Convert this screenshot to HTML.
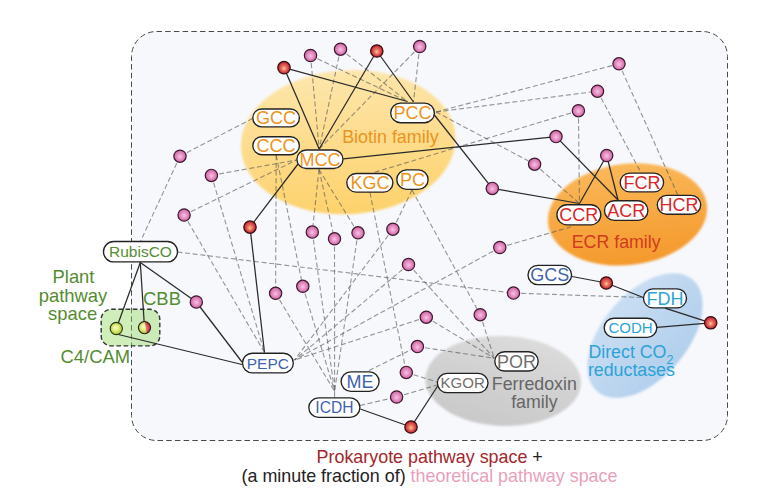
<!DOCTYPE html><html><head><meta charset="utf-8"><style>
html,body{margin:0;padding:0;background:#fff;}
body{width:757px;height:501px;overflow:hidden;position:relative;font-family:"Liberation Sans",sans-serif;}
svg{position:absolute;left:0;top:0;}
svg text{font-family:"Liberation Sans",sans-serif;}
</style></head><body>
<svg width="757" height="501" viewBox="0 0 757 501">
<defs>
<radialGradient id="gp" cx="50%" cy="50%" r="50%" fx="50%" fy="55%"><stop offset="0" stop-color="#f6c4e2"/><stop offset="0.5" stop-color="#e690c6"/><stop offset="1" stop-color="#c9679f"/></radialGradient>
<radialGradient id="gr" cx="50%" cy="50%" r="50%" fx="50%" fy="58%"><stop offset="0" stop-color="#f8cc94"/><stop offset="0.38" stop-color="#eb7462"/><stop offset="0.75" stop-color="#d13e40"/><stop offset="1" stop-color="#9e2030"/></radialGradient>
<radialGradient id="gy" cx="50%" cy="50%" r="50%" fx="40%" fy="40%"><stop offset="0" stop-color="#f8fbd0"/><stop offset="0.5" stop-color="#e2ef80"/><stop offset="1" stop-color="#a8c238"/></radialGradient>
<radialGradient id="gr2" cx="50%" cy="50%" r="50%" fx="40%" fy="60%"><stop offset="0" stop-color="#fbd0d0"/><stop offset="0.5" stop-color="#e66a72"/><stop offset="1" stop-color="#b82a3a"/></radialGradient>
<linearGradient id="gbio" x1="0" y1="0" x2="0" y2="1"><stop offset="0" stop-color="#fde6ac"/><stop offset="1" stop-color="#fdd26c"/></linearGradient>
<linearGradient id="gecr" x1="0" y1="0" x2="0" y2="1"><stop offset="0" stop-color="#fab85a"/><stop offset="1" stop-color="#f4992c"/></linearGradient>
<linearGradient id="gblue" x1="0" y1="0" x2="0" y2="1"><stop offset="0" stop-color="#c9def3"/><stop offset="1" stop-color="#b2cfec"/></linearGradient>
<linearGradient id="ggrey" x1="0.7" y1="0" x2="0.3" y2="1"><stop offset="0" stop-color="#dcdcdd"/><stop offset="0.5" stop-color="#d1d1d1"/><stop offset="1" stop-color="#c9c9c9"/></linearGradient>
<filter id="blur1" x="-10%" y="-10%" width="120%" height="120%"><feGaussianBlur stdDeviation="0.8"/></filter>
</defs>
<rect x="131.5" y="31.5" width="596" height="409" rx="25" ry="25" fill="#f7f8fc" stroke="#4a4a4a" stroke-width="1" stroke-dasharray="5.5 3.2"/>
<ellipse cx="348.2" cy="142.2" rx="107.4" ry="72" transform="rotate(-3.3 348.2 142.2)" fill="url(#gbio)" filter="url(#blur1)"/>
<ellipse cx="627.5" cy="214.4" rx="80" ry="50.6" transform="rotate(-7 627.5 214.4)" fill="url(#gecr)" filter="url(#blur1)"/>
<ellipse cx="645" cy="335.6" rx="73.5" ry="42.5" transform="rotate(-49.5 645 335.6)" fill="url(#gblue)" filter="url(#blur1)"/>
<ellipse cx="503.2" cy="380.9" rx="77.9" ry="45" transform="rotate(1.8 503.2 380.9)" fill="url(#ggrey)" filter="url(#blur1)"/>
<rect x="101.2" y="309.3" width="58.6" height="36.6" rx="10" ry="10" fill="rgb(140,215,90)" fill-opacity="0.42" stroke="#333" stroke-width="1.4" stroke-dasharray="4.6 2.6"/>
<g stroke="#555" stroke-opacity="0.62" stroke-width="1.1" stroke-dasharray="5 2.7" fill="none">
<line x1="310.5" y1="55.5" x2="319.2" y2="149.0"/>
<line x1="310.5" y1="55.5" x2="407.5" y2="101.5"/>
<line x1="340.5" y1="49.2" x2="319.2" y2="149.0"/>
<line x1="340.5" y1="49.2" x2="407.5" y2="101.5"/>
<line x1="419.7" y1="46.5" x2="319.2" y2="149.0"/>
<line x1="419.7" y1="46.5" x2="413.5" y2="102.0"/>
<line x1="436.0" y1="112.0" x2="619.0" y2="63.8"/>
<line x1="436.0" y1="112.0" x2="597.5" y2="91.2"/>
<line x1="436.0" y1="112.0" x2="534.6" y2="164.2"/>
<line x1="619.0" y1="63.8" x2="677.7" y2="194.8"/>
<line x1="597.5" y1="91.2" x2="640.8" y2="172.4"/>
<line x1="578.4" y1="110.7" x2="579.5" y2="203.5"/>
<line x1="578.4" y1="110.7" x2="373.0" y2="172.8"/>
<line x1="534.6" y1="164.2" x2="579.5" y2="203.5"/>
<line x1="180.0" y1="156.2" x2="252.5" y2="118.5"/>
<line x1="180.0" y1="156.2" x2="140.2" y2="242.0"/>
<line x1="211.4" y1="175.4" x2="296.5" y2="160.0"/>
<line x1="211.4" y1="175.4" x2="264.5" y2="352.5"/>
<line x1="184.1" y1="215.0" x2="296.5" y2="160.0"/>
<line x1="184.1" y1="215.0" x2="264.5" y2="352.5"/>
<line x1="276.2" y1="155.2" x2="275.6" y2="293.3"/>
<line x1="276.2" y1="155.2" x2="302.8" y2="286.3"/>
<line x1="319.0" y1="169.5" x2="312.3" y2="232.1"/>
<line x1="319.0" y1="169.5" x2="334.5" y2="238.8"/>
<line x1="319.0" y1="169.5" x2="358.0" y2="232.8"/>
<line x1="312.3" y1="232.1" x2="334.6" y2="391.3"/>
<line x1="334.5" y1="238.8" x2="334.6" y2="391.3"/>
<line x1="358.0" y1="232.8" x2="334.6" y2="391.3"/>
<line x1="302.8" y1="286.3" x2="334.6" y2="391.3"/>
<line x1="275.6" y1="293.3" x2="334.6" y2="391.3"/>
<line x1="412.0" y1="190.0" x2="392.9" y2="229.2"/>
<line x1="412.0" y1="190.0" x2="480.2" y2="314.7"/>
<line x1="370.0" y1="192.7" x2="406.3" y2="372.4"/>
<line x1="392.9" y1="229.2" x2="294.5" y2="360.0"/>
<line x1="408.5" y1="264.5" x2="294.5" y2="360.0"/>
<line x1="499.8" y1="247.5" x2="294.5" y2="360.0"/>
<line x1="426.3" y1="317.2" x2="294.5" y2="360.0"/>
<line x1="499.8" y1="247.5" x2="574.0" y2="226.0"/>
<line x1="177.4" y1="252.0" x2="513.5" y2="293.1"/>
<line x1="513.5" y1="293.1" x2="643.3" y2="297.5"/>
<line x1="408.5" y1="264.5" x2="494.3" y2="358.3"/>
<line x1="480.2" y1="314.7" x2="494.3" y2="358.3"/>
<line x1="426.3" y1="317.2" x2="494.3" y2="358.3"/>
<line x1="417.4" y1="346.6" x2="494.3" y2="358.3"/>
<line x1="369.0" y1="370.5" x2="417.4" y2="346.6"/>
<line x1="406.3" y1="372.4" x2="437.2" y2="382.0"/>
<line x1="396.6" y1="397.0" x2="437.2" y2="385.0"/>
<line x1="360.0" y1="405.5" x2="396.6" y2="397.0"/>
</g>
<line x1="334.6" y1="391.3" x2="334.6" y2="397.5" stroke="#888" stroke-width="1"/>
<g stroke="#2a2a2a" stroke-width="1.25" fill="none">
<line x1="284.0" y1="67.7" x2="319.2" y2="149.0"/>
<line x1="284.0" y1="67.7" x2="407.5" y2="101.5"/>
<line x1="376.8" y1="51.0" x2="319.2" y2="149.0"/>
<line x1="376.8" y1="51.0" x2="413.5" y2="102.0"/>
<line x1="343.3" y1="158.8" x2="556.0" y2="136.6"/>
<line x1="556.0" y1="136.6" x2="618.0" y2="200.0"/>
<line x1="434.0" y1="114.5" x2="492.3" y2="188.4"/>
<line x1="492.3" y1="188.4" x2="579.5" y2="203.5"/>
<line x1="606.7" y1="155.5" x2="579.5" y2="203.5"/>
<line x1="606.7" y1="155.5" x2="618.0" y2="200.0"/>
<line x1="298.0" y1="164.0" x2="250.0" y2="227.1"/>
<line x1="250.0" y1="227.1" x2="264.5" y2="352.5"/>
<line x1="140.3" y1="262.5" x2="116.3" y2="328.5"/>
<line x1="140.3" y1="262.5" x2="144.5" y2="327.6"/>
<line x1="140.3" y1="262.5" x2="196.3" y2="302.0"/>
<line x1="196.3" y1="302.0" x2="242.0" y2="362.0"/>
<line x1="116.3" y1="334.0" x2="242.0" y2="364.5"/>
<line x1="360.3" y1="409.0" x2="411.0" y2="427.0"/>
<line x1="411.0" y1="427.0" x2="438.0" y2="385.5"/>
<line x1="572.0" y1="276.5" x2="606.3" y2="283.0"/>
<line x1="606.3" y1="283.0" x2="643.3" y2="297.5"/>
<line x1="665.0" y1="308.2" x2="710.7" y2="322.8"/>
<line x1="657.0" y1="327.3" x2="710.7" y2="322.8"/>
</g>
<circle cx="284.0" cy="67.7" r="6.2" fill="url(#gr)" stroke="#3a1014" stroke-width="1.25"/>
<circle cx="310.5" cy="55.5" r="6.15" fill="url(#gp)" stroke="#3e1830" stroke-width="1.2"/>
<circle cx="340.5" cy="49.2" r="6.15" fill="url(#gp)" stroke="#3e1830" stroke-width="1.2"/>
<circle cx="376.8" cy="51.0" r="6.2" fill="url(#gr)" stroke="#3a1014" stroke-width="1.25"/>
<circle cx="419.7" cy="46.5" r="6.15" fill="url(#gp)" stroke="#3e1830" stroke-width="1.2"/>
<circle cx="619.0" cy="63.8" r="6.15" fill="url(#gp)" stroke="#3e1830" stroke-width="1.2"/>
<circle cx="597.5" cy="91.2" r="6.15" fill="url(#gp)" stroke="#3e1830" stroke-width="1.2"/>
<circle cx="578.4" cy="110.7" r="6.15" fill="url(#gp)" stroke="#3e1830" stroke-width="1.2"/>
<circle cx="556.0" cy="136.6" r="6.15" fill="url(#gp)" stroke="#3e1830" stroke-width="1.2"/>
<circle cx="534.6" cy="164.2" r="6.15" fill="url(#gp)" stroke="#3e1830" stroke-width="1.2"/>
<circle cx="606.7" cy="155.5" r="6.15" fill="url(#gp)" stroke="#3e1830" stroke-width="1.2"/>
<circle cx="492.3" cy="188.4" r="6.15" fill="url(#gp)" stroke="#3e1830" stroke-width="1.2"/>
<circle cx="180.0" cy="156.2" r="6.15" fill="url(#gp)" stroke="#3e1830" stroke-width="1.2"/>
<circle cx="211.4" cy="175.4" r="6.15" fill="url(#gp)" stroke="#3e1830" stroke-width="1.2"/>
<circle cx="184.1" cy="215.0" r="6.15" fill="url(#gp)" stroke="#3e1830" stroke-width="1.2"/>
<circle cx="250.0" cy="227.1" r="6.2" fill="url(#gr)" stroke="#3a1014" stroke-width="1.25"/>
<circle cx="312.3" cy="232.1" r="6.15" fill="url(#gp)" stroke="#3e1830" stroke-width="1.2"/>
<circle cx="334.5" cy="238.8" r="6.15" fill="url(#gp)" stroke="#3e1830" stroke-width="1.2"/>
<circle cx="358.0" cy="232.8" r="6.15" fill="url(#gp)" stroke="#3e1830" stroke-width="1.2"/>
<circle cx="392.9" cy="229.2" r="6.15" fill="url(#gp)" stroke="#3e1830" stroke-width="1.2"/>
<circle cx="408.5" cy="264.5" r="6.15" fill="url(#gp)" stroke="#3e1830" stroke-width="1.2"/>
<circle cx="499.8" cy="247.5" r="6.15" fill="url(#gp)" stroke="#3e1830" stroke-width="1.2"/>
<circle cx="513.5" cy="293.1" r="6.15" fill="url(#gp)" stroke="#3e1830" stroke-width="1.2"/>
<circle cx="480.2" cy="314.7" r="6.15" fill="url(#gp)" stroke="#3e1830" stroke-width="1.2"/>
<circle cx="426.3" cy="317.2" r="6.15" fill="url(#gp)" stroke="#3e1830" stroke-width="1.2"/>
<circle cx="302.8" cy="286.3" r="6.15" fill="url(#gp)" stroke="#3e1830" stroke-width="1.2"/>
<circle cx="275.6" cy="293.3" r="6.15" fill="url(#gp)" stroke="#3e1830" stroke-width="1.2"/>
<circle cx="196.3" cy="302.0" r="6.15" fill="url(#gp)" stroke="#3e1830" stroke-width="1.2"/>
<circle cx="417.4" cy="346.6" r="6.15" fill="url(#gp)" stroke="#3e1830" stroke-width="1.2"/>
<circle cx="406.3" cy="372.4" r="6.15" fill="url(#gp)" stroke="#3e1830" stroke-width="1.2"/>
<circle cx="396.6" cy="397.0" r="6.15" fill="url(#gp)" stroke="#3e1830" stroke-width="1.2"/>
<circle cx="411.0" cy="427.0" r="6.2" fill="url(#gr)" stroke="#3a1014" stroke-width="1.25"/>
<circle cx="606.3" cy="283.0" r="6.2" fill="url(#gr)" stroke="#3a1014" stroke-width="1.25"/>
<circle cx="710.7" cy="322.8" r="6.2" fill="url(#gr)" stroke="#3a1014" stroke-width="1.25"/>
<circle cx="116.3" cy="328.5" r="6.1" fill="url(#gy)" stroke="#2d3a12" stroke-width="1.1"/>
<clipPath id="hl"><polygon points="130,315 144.0,315 147.5,340 130,340"/></clipPath>
<clipPath id="hr"><polygon points="144.0,315 160,315 160,340 147.5,340"/></clipPath>
<circle cx="144.5" cy="327.6" r="6.1" fill="url(#gy)" clip-path="url(#hl)"/>
<circle cx="144.5" cy="327.6" r="6.1" fill="url(#gr2)" clip-path="url(#hr)"/>
<circle cx="144.5" cy="327.6" r="6.1" fill="none" stroke="#2d1a12" stroke-width="1.1"/>
<rect x="252.8" y="109.0" width="46.6" height="17.8" rx="8.9" fill="#fff" stroke="#222" stroke-width="1.35"/>
<text x="276.1" y="124.3" font-size="18" fill="#ec9320" text-anchor="middle">GCC</text>
<rect x="252.8" y="136.7" width="46.6" height="18.0" rx="9.0" fill="#fff" stroke="#222" stroke-width="1.35"/>
<text x="276.1" y="152.1" font-size="18" fill="#ec9320" text-anchor="middle">CCC</text>
<rect x="296.9" y="150.0" width="46.1" height="18.5" rx="9.2" fill="#fff" stroke="#222" stroke-width="1.35"/>
<text x="319.9" y="165.7" font-size="18" fill="#ec9320" text-anchor="middle">MCC</text>
<rect x="390.7" y="103.1" width="43.7" height="19.6" rx="9.8" fill="#fff" stroke="#222" stroke-width="1.35"/>
<text x="412.5" y="119.3" font-size="18" fill="#ec9320" text-anchor="middle">PCC</text>
<rect x="346.8" y="173.5" width="46.1" height="18.6" rx="9.3" fill="#fff" stroke="#222" stroke-width="1.35"/>
<text x="369.9" y="189.2" font-size="18" fill="#ec9320" text-anchor="middle">KGC</text>
<rect x="396.8" y="169.9" width="31.3" height="19.5" rx="9.8" fill="#fff" stroke="#222" stroke-width="1.35"/>
<text x="412.5" y="186.1" font-size="18" fill="#ec9320" text-anchor="middle">PC</text>
<rect x="620.2" y="173.1" width="43.4" height="18.8" rx="9.4" fill="#fff" stroke="#222" stroke-width="1.35"/>
<text x="641.9" y="188.9" font-size="18" fill="#d8262a" text-anchor="middle">FCR</text>
<rect x="657.3" y="195.4" width="43.4" height="18.8" rx="9.4" fill="#fff" stroke="#222" stroke-width="1.35"/>
<text x="679.0" y="211.2" font-size="18" fill="#d8262a" text-anchor="middle">HCR</text>
<rect x="604.5" y="200.7" width="43.4" height="19.6" rx="9.8" fill="#fff" stroke="#222" stroke-width="1.35"/>
<text x="626.2" y="216.9" font-size="18" fill="#d8262a" text-anchor="middle">ACR</text>
<rect x="556.9" y="204.7" width="43.9" height="20.1" rx="10.1" fill="#fff" stroke="#222" stroke-width="1.35"/>
<text x="578.8" y="221.2" font-size="18" fill="#d8262a" text-anchor="middle">CCR</text>
<rect x="103.5" y="241.5" width="74.0" height="20.4" rx="10.2" fill="#fff" stroke="#222" stroke-width="1.35"/>
<text x="140.5" y="257.2" font-size="15.5" fill="#538d30" text-anchor="middle">RubisCO</text>
<rect x="242.5" y="353.2" width="50.8" height="19.7" rx="9.8" fill="#fff" stroke="#222" stroke-width="1.35"/>
<text x="267.9" y="368.6" font-size="15.5" fill="#3f63b0" text-anchor="middle">PEPC</text>
<rect x="341.1" y="371.9" width="38.0" height="19.4" rx="9.7" fill="#fff" stroke="#222" stroke-width="1.35"/>
<text x="360.1" y="388.0" font-size="18" fill="#3f63b0" text-anchor="middle">ME</text>
<rect x="308.8" y="397.8" width="51.1" height="19.6" rx="9.8" fill="#fff" stroke="#222" stroke-width="1.35"/>
<text x="334.4" y="413.2" font-size="15.6" fill="#3f63b0" text-anchor="middle">ICDH</text>
<rect x="528.0" y="265.3" width="43.6" height="19.3" rx="9.7" fill="#fff" stroke="#222" stroke-width="1.35"/>
<text x="549.8" y="281.4" font-size="18" fill="#3f63b0" text-anchor="middle">GCS</text>
<rect x="643.5" y="288.8" width="43.0" height="19.1" rx="9.5" fill="#fff" stroke="#222" stroke-width="1.35"/>
<text x="665.0" y="304.8" font-size="18" fill="#2ba3d6" text-anchor="middle">FDH</text>
<rect x="604.2" y="318.2" width="52.6" height="19.1" rx="9.6" fill="#fff" stroke="#222" stroke-width="1.35"/>
<text x="630.5" y="333.1" font-size="15" fill="#2ba3d6" text-anchor="middle">CODH</text>
<rect x="494.8" y="351.7" width="43.4" height="19.3" rx="9.7" fill="#fff" stroke="#222" stroke-width="1.35"/>
<text x="516.5" y="367.8" font-size="18" fill="#6f6f6f" text-anchor="middle">POR</text>
<rect x="437.4" y="373.4" width="50.6" height="19.3" rx="9.7" fill="#fff" stroke="#222" stroke-width="1.35"/>
<text x="462.7" y="388.4" font-size="15" fill="#6f6f6f" text-anchor="middle">KGOR</text>
<text x="390.4" y="142.8" font-size="17.9" fill="#ec9320" text-anchor="middle">Biotin family</text>
<text x="616.2" y="247.6" font-size="17.8" fill="#d33a1e" text-anchor="middle">ECR family</text>
<text x="534.3" y="389.8" font-size="17.8" fill="#666" text-anchor="middle">Ferredoxin</text>
<text x="534.4" y="407.6" font-size="17.8" fill="#666" text-anchor="middle">family</text>
<text x="588.4" y="357.9" font-size="17.8" fill="#2ba3d6">Direct CO<tspan font-size="12.5" dy="5.6">2</tspan></text>
<text x="631.4" y="376.4" font-size="17.8" fill="#2ba3d6" text-anchor="middle">reductases</text>
<text x="73.5" y="282.6" font-size="18.4" fill="#538d30" text-anchor="middle">Plant</text>
<text x="73" y="301.5" font-size="18.4" fill="#538d30" text-anchor="middle">pathway</text>
<text x="72.6" y="320.4" font-size="18.4" fill="#538d30" text-anchor="middle">space</text>
<text x="162" y="304.8" font-size="18.4" fill="#538d30" text-anchor="middle">CBB</text>
<text x="95.3" y="362.5" font-size="18.4" fill="#538d30" text-anchor="middle">C4/CAM</text>
<text x="429.7" y="463" font-size="17.9" text-anchor="middle"><tspan fill="#a3262a">Prokaryote pathway space</tspan><tspan fill="#222"> +</tspan></text>
<text x="429.5" y="481.5" font-size="17.9" text-anchor="middle"><tspan fill="#222">(a minute fraction of) </tspan><tspan fill="#e99fb9">theoretical pathway space</tspan></text>
</svg></body></html>
